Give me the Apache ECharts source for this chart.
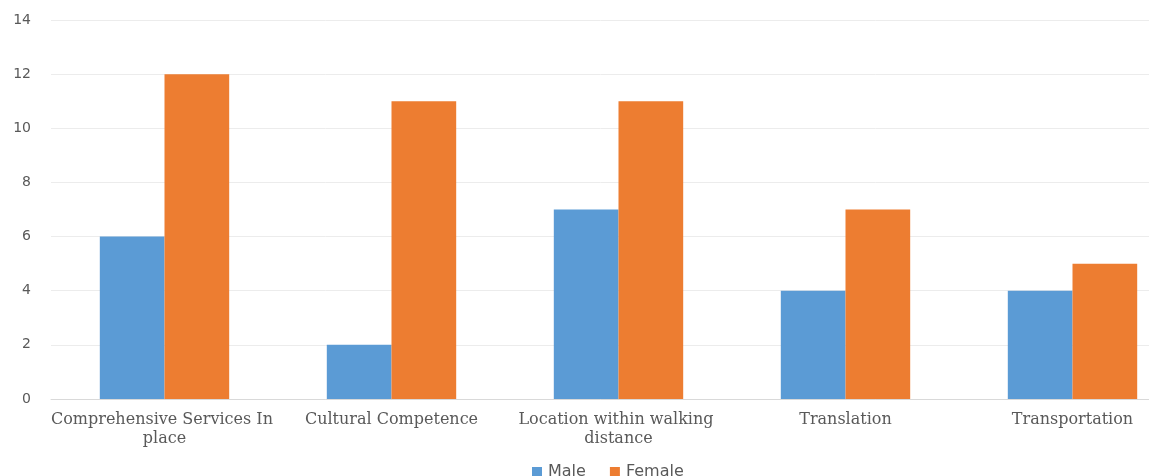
<!DOCTYPE html>
<html>
<head>
<meta charset="utf-8">
<script src="https://cdn.jsdelivr.net/npm/echarts@6/dist/echarts.min.js"></script>
<style>
  html, body { margin: 0; padding: 0; background: #fff; }
  #chart { width: 1149px; height: 476px; }
</style>
</head>
<body>
<div id="chart"></div>
<script>
// Categories and counts per gender
const categories = [
  'Comprehensive Services In place',
  'Cultural Competence',
  'Location within walking distance',
  'Translation',
  'Transportation'
];
const maleValues = [6, 2, 7, 4, 4];
const femaleValues = [12, 11, 11, 7, 5];
const seriesNames = ['Male', 'Female'];

const chart = echarts.init(document.getElementById('chart'));
chart.setOption({
  animation: false,
  backgroundColor: '#ffffff',
  color: ['#5B9BD5', '#ED7D31'],
  // plot area runs past the right edge of the canvas
  grid: { left: 51, width: 1135, top: 20, height: 379, containLabel: false, outerBoundsMode: 'none' },
  legend: {
    data: seriesNames,
    top: 459,
    left: 527,
    itemWidth: 10,
    itemHeight: 10,
    itemGap: 24,
    icon: 'rect',
    textStyle: { fontFamily: 'DejaVu Sans, sans-serif', fontSize: 16, color: '#595959', padding: [0, 0, 0, 1] }
  },
  xAxis: {
    type: 'category',
    data: categories,
    axisLine: { lineStyle: { color: '#d9d9d9' } },
    axisTick: { show: false },
    axisLabel: {
      interval: 0,
      margin: 11,
      width: 232,
      overflow: 'break',
      lineHeight: 19,
      fontFamily: 'DejaVu Serif, serif',
      fontSize: 16,
      color: '#595959'
    }
  },
  yAxis: {
    type: 'value',
    min: 0,
    max: 14,
    interval: 2,
    axisLine: { show: false },
    axisTick: { show: false },
    splitLine: { lineStyle: { color: '#ececec', width: 1 } },
    axisLabel: {
      margin: 20,
      fontFamily: 'DejaVu Sans, sans-serif',
      fontSize: 14,
      color: '#595959'
    }
  },
  series: [
    { name: seriesNames[0], type: 'bar', data: maleValues, barGap: '0%', barCategoryGap: '43%' },
    { name: seriesNames[1], type: 'bar', data: femaleValues, barGap: '0%', barCategoryGap: '43%' }
  ]
});
</script>
</body>
</html>
